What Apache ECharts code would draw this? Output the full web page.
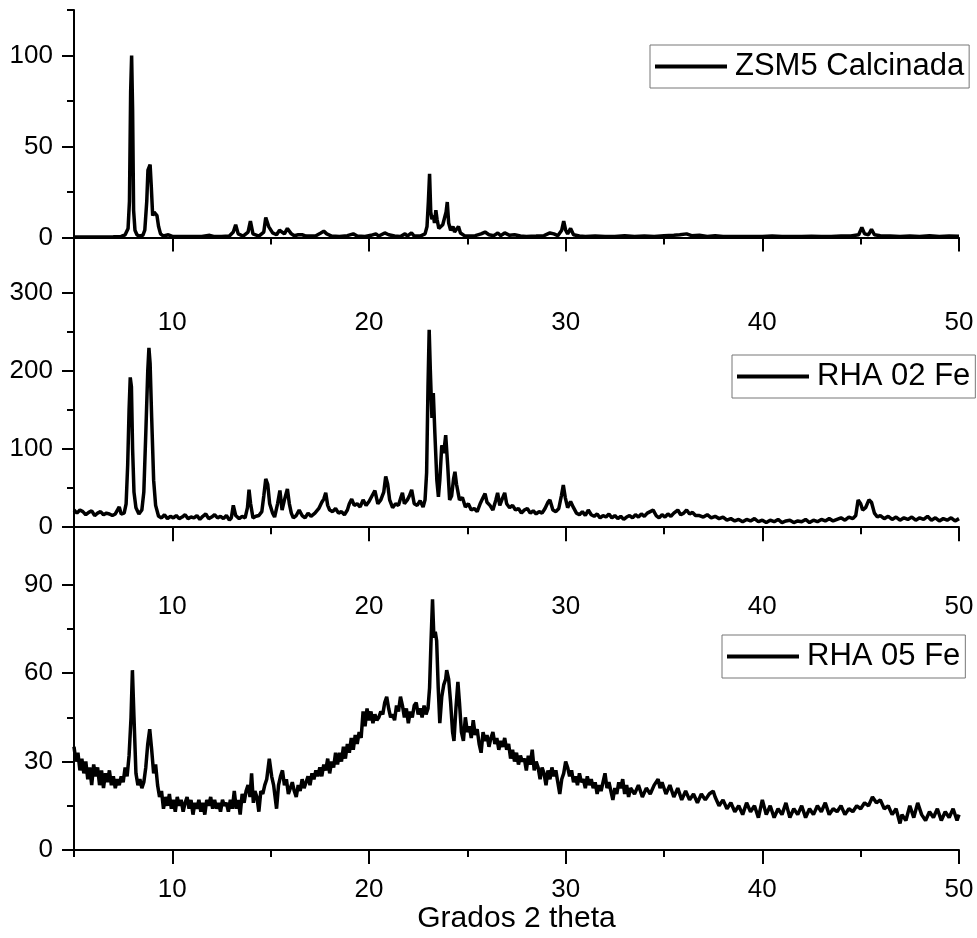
<!DOCTYPE html>
<html>
<head>
<meta charset="utf-8">
<title>DRX ZSM5 / RHA</title>
<script src="https://cdn.jsdelivr.net/npm/echarts@6/dist/echarts.min.js"></script>
<style>
  html, body { margin: 0; padding: 0; background: #fff; }
  #chart { width: 977px; height: 938px; }
</style>
</head>
<body>
<div id="chart"></div>
<script>
var zsm5Data = [
  [5,0.3],[5.5,0.3],[6,0.3],[6.5,0.3],[7,0.4],[7.4,0.6],[7.6,1.5],[7.75,5],[7.82,20],[7.88,80],[7.93,100],[7.98,70],[8.03,15],[8.1,4],[8.2,1.5],[8.35,0.8],
  [8.5,1.2],[8.6,4],[8.7,20],[8.76,37],[8.82,38],[8.87,40],[8.93,28],[9.0,12],[9.07,14],[9.15,13],[9.22,12],[9.3,6],[9.4,2],[9.55,0.8],[9.8,1.5],[10,0.6],
  [10.5,0.5],[11,0.6],[11.5,0.5],[11.9,1.2],[12.1,0.6],[12.5,0.5],[12.9,0.8],[13.1,3],[13.22,7],[13.35,2],[13.6,0.8],[13.85,3],[13.97,9],[14.1,2],[14.4,0.8],
  [14.65,3],[14.75,11],[14.82,12],[14.9,6],[15.0,5],[15.1,2.5],[15.3,1.5],[15.45,4],[15.55,4.5],[15.7,2],[15.85,5],[15.92,6],[16.05,2],[16.2,1],[16.4,1.5],
  [16.6,1.5],[16.8,0.8],[17.0,0.8],[17.3,1],[17.55,2.5],[17.7,3.5],[17.76,4.5],[17.85,2],[18.1,0.8],[18.5,0.6],[18.9,1],[19.2,2],[19.4,0.8],[19.8,0.6],
  [20.1,1.2],[20.35,2],[20.5,0.8],[20.8,2.5],[20.9,3.5],[21.0,1.5],[21.3,0.8],[21.6,0.6],[21.83,2],[21.95,0.8],[22.16,2.5],[22.3,0.8],[22.6,0.8],[22.85,2],
  [22.95,6],[23.02,20],[23.08,35],[23.14,14],[23.2,10],[23.27,12],[23.33,8],[23.4,15],[23.46,10],[23.55,5],[23.65,4],[23.75,7],[23.85,8],[23.92,14],
  [23.98,19.5],[24.05,8],[24.15,4],[24.27,6],[24.35,3],[24.45,4],[24.55,6],[24.65,2.5],[24.85,1],[25.1,0.8],[25.4,1],[25.7,2],[25.9,3],[26.1,1.5],[26.35,1],
  [26.55,2.5],[26.7,1],[26.9,2.5],[27.0,3.5],[27.15,1.2],[27.4,1.5],[27.7,0.8],[28.0,0.6],[28.5,0.8],[28.9,1],[29.2,2.5],[29.4,2],[29.6,1],[29.8,4],[29.9,9],
  [30.0,4],[30.1,2],[30.25,5],[30.4,1.5],[30.7,0.8],[31,0.6],[31.5,0.8],[32,0.6],[32.5,0.5],[33,1],[33.5,0.6],[34,0.8],[34.5,0.6],[35,1],[35.5,1.2],[35.8,1.5],
  [36.15,2],[36.4,1],[36.8,1.2],[37.2,0.6],[37.6,1],[38,0.5],[38.5,0.6],[39,0.5],[39.5,0.6],[40,0.5],[40.5,0.8],[41,0.6],[41.5,0.5],[42,0.6],[42.5,0.7],
  [43,0.5],[43.5,0.6],[44,0.8],[44.5,0.8],[44.9,1.5],[45.06,5.5],[45.2,2],[45.4,1.5],[45.55,4.5],[45.7,1.5],[46,1],[46.5,0.8],[47,0.6],[47.5,0.8],[48,0.6],
  [48.5,1],[49,0.6],[49.5,0.8],[50,0.7]
];

var rha02Data = [
  [5.0,22],[5.15,18],[5.3,22],[5.45,20],[5.6,16],[5.75,19],[5.9,21],[6.05,15],[6.2,18],[6.35,20],[6.5,16],[6.65,18],[6.8,17],[6.95,15],[7.1,17],[7.2,16],
  [7.3,26],[7.4,17],[7.55,18],[7.65,30],[7.73,80],[7.8,150],[7.86,192],[7.92,180],[7.98,100],[8.05,45],[8.15,25],[8.3,17],[8.45,22],[8.55,45],[8.65,120],
  [8.75,200],[8.81,230],[8.87,210],[8.95,140],[9.05,60],[9.15,28],[9.3,14],[9.45,12],[9.6,16],[9.75,11],[9.9,14],[10.05,12],[10.2,15],[10.35,11],[10.5,13],
  [10.65,16],[10.8,11],[10.95,13],[11.1,12],[11.25,15],[11.4,10],[11.55,14],[11.7,17],[11.85,11],[12.0,13],[12.15,16],[12.3,12],[12.45,14],[12.6,11],
  [12.75,15],[12.9,9],[13.0,12],[13.1,28],[13.22,15],[13.4,11],[13.55,14],[13.7,12],[13.82,25],[13.9,48],[13.98,30],[14.1,12],[14.25,14],[14.4,15],[14.55,20],
  [14.65,40],[14.75,62],[14.85,55],[14.95,30],[15.1,18],[15.2,13],[15.35,30],[15.47,47],[15.58,22],[15.7,35],[15.85,49],[15.95,30],[16.05,18],[16.15,12],
  [16.3,15],[16.45,22],[16.6,15],[16.75,12],[16.9,18],[17.05,14],[17.25,18],[17.45,24],[17.6,32],[17.7,36],[17.8,44],[17.9,28],[18.0,22],[18.15,20],[18.3,24],
  [18.45,18],[18.6,20],[18.75,16],[18.9,22],[19.0,30],[19.12,36],[19.25,28],[19.4,30],[19.55,26],[19.7,35],[19.85,28],[20.0,33],[20.15,40],[20.3,47],
  [20.45,30],[20.6,35],[20.75,45],[20.85,65],[20.95,55],[21.05,35],[21.2,25],[21.35,30],[21.5,28],[21.62,38],[21.7,44],[21.8,30],[21.95,35],[22.05,40],
  [22.17,48],[22.3,30],[22.45,28],[22.6,34],[22.75,26],[22.85,35],[22.93,70],[23.0,180],[23.06,253],[23.12,200],[23.2,140],[23.27,172],[23.35,120],[23.45,60],
  [23.53,39],[23.6,60],[23.7,105],[23.8,95],[23.9,118],[24.0,80],[24.1,35],[24.2,40],[24.3,62],[24.37,71],[24.45,55],[24.6,35],[24.75,38],[24.9,26],[25.05,30],
  [25.2,22],[25.35,24],[25.5,20],[25.65,30],[25.8,38],[25.9,43],[26.0,32],[26.15,28],[26.3,22],[26.45,35],[26.54,44],[26.65,28],[26.8,38],[26.9,44],[27.0,30],
  [27.15,25],[27.3,28],[27.45,22],[27.6,24],[27.75,18],[27.9,22],[28.05,24],[28.2,18],[28.35,21],[28.5,17],[28.65,20],[28.8,18],[28.95,24],[29.1,32],[29.2,35],
  [29.35,22],[29.5,20],[29.65,24],[29.78,40],[29.88,54],[29.98,38],[30.1,25],[30.25,33],[30.4,25],[30.55,18],[30.7,16],[30.85,20],[31.0,15],[31.15,22],
  [31.3,16],[31.45,14],[31.6,17],[31.75,12],[31.9,15],[32.05,13],[32.2,17],[32.35,12],[32.5,15],[32.65,11],[32.8,14],[32.95,10],[33.1,13],[33.25,15],
  [33.4,12],[33.55,16],[33.7,13],[33.85,17],[34.0,14],[34.15,18],[34.3,20],[34.45,22],[34.6,15],[34.75,12],[34.9,16],[35.05,13],[35.2,17],[35.35,14],
  [35.5,18],[35.7,22],[35.85,16],[36.0,18],[36.15,22],[36.3,17],[36.45,19],[36.6,15],[36.8,15],[37.0,13],[37.2,16],[37.4,12],[37.6,14],[37.8,11],[38.0,13],
  [38.2,9],[38.4,11],[38.6,8],[38.8,10],[39.0,7],[39.2,10],[39.4,8],[39.6,11],[39.8,7],[40.0,9],[40.2,6],[40.4,9],[40.6,7],[40.8,10],[41.0,6],[41.2,8],
  [41.4,9],[41.6,6],[41.8,8],[42.0,7],[42.2,10],[42.4,6],[42.6,9],[42.8,7],[43.0,10],[43.2,8],[43.4,11],[43.6,8],[43.8,10],[44.0,12],[44.2,9],[44.4,13],
  [44.6,11],[44.75,15],[44.87,35],[45.0,30],[45.1,22],[45.25,25],[45.42,35],[45.55,32],[45.7,18],[45.85,13],[46.0,15],[46.2,11],[46.4,14],[46.6,10],
  [46.8,13],[47.0,9],[47.2,12],[47.4,10],[47.6,13],[47.8,9],[48.0,12],[48.2,10],[48.4,14],[48.6,9],[48.8,12],[49.0,8],[49.2,11],[49.4,9],[49.6,12],
  [49.8,8],[50.0,11]
];

var rha05Data = [
  [5.0,35],[5.1,30],[5.2,33],[5.3,27],[5.4,31],[5.5,26],[5.6,30],[5.7,24],[5.8,28],[5.9,22],[6.0,29],[6.1,25],[6.2,28],[6.3,22],[6.4,27],[6.5,21],[6.6,26],
  [6.7,23],[6.8,27],[6.9,22],[7.0,25],[7.1,21],[7.2,24],[7.3,22],[7.4,25],[7.5,23],[7.6,28],[7.7,25],[7.8,32],[7.9,45],[7.97,61],[8.05,45],[8.15,26],[8.25,22],
  [8.35,24],[8.45,21],[8.55,23],[8.65,28],[8.75,36],[8.85,41],[8.95,34],[9.05,26],[9.15,29],[9.25,22],[9.35,18],[9.45,20],[9.55,14],[9.65,18],[9.75,15],
  [9.85,19],[9.95,14],[10.05,17],[10.15,13],[10.25,18],[10.35,15],[10.45,17],[10.55,13],[10.65,16],[10.75,18],[10.85,14],[10.95,17],[11.05,12],[11.15,16],
  [11.25,14],[11.35,17],[11.45,13],[11.55,16],[11.65,12],[11.75,17],[11.85,15],[11.95,18],[12.05,14],[12.15,17],[12.25,14],[12.35,16],[12.45,13],[12.55,17],
  [12.65,15],[12.75,16],[12.85,13],[12.95,17],[13.05,14],[13.15,20],[13.25,14],[13.35,17],[13.45,12],[13.55,19],[13.65,16],[13.75,20],[13.85,22],[13.95,18],
  [14.03,26],[14.12,16],[14.2,20],[14.3,18],[14.4,13],[14.5,20],[14.6,19],[14.7,22],[14.8,24],[14.93,31],[15.05,25],[15.15,22],[15.3,14],[15.4,22],[15.5,25],
  [15.6,27],[15.7,22],[15.8,24],[15.9,19],[16.0,21],[16.1,23],[16.2,20],[16.3,18],[16.4,22],[16.5,20],[16.6,24],[16.7,21],[16.8,23],[16.9,25],[17.0,22],
  [17.1,26],[17.2,24],[17.3,27],[17.4,25],[17.5,28],[17.6,25],[17.7,29],[17.8,27],[17.9,31],[18.0,26],[18.1,30],[18.2,28],[18.3,33],[18.4,29],[18.5,33],
  [18.6,30],[18.7,35],[18.8,31],[18.9,36],[19.0,33],[19.1,38],[19.2,34],[19.3,39],[19.4,36],[19.5,40],[19.6,38],[19.7,47],[19.8,42],[19.9,48],[20.0,44],
  [20.1,47],[20.2,43],[20.3,46],[20.4,44],[20.5,45],[20.6,47],[20.7,46],[20.8,50],[20.9,52],[21.0,48],[21.1,45],[21.2,46],[21.3,44],[21.4,49],[21.5,47],
  [21.6,52],[21.7,49],[21.8,45],[21.9,48],[22.0,43],[22.1,47],[22.2,45],[22.3,49],[22.4,50],[22.5,46],[22.6,48],[22.7,45],[22.8,49],[22.9,46],[23.0,48],
  [23.08,55],[23.15,70],[23.23,85],[23.3,72],[23.37,74],[23.44,71],[23.52,55],[23.6,43],[23.7,52],[23.8,56],[23.9,58],[23.95,61],[24.05,58],[24.15,50],
  [24.25,40],[24.32,37],[24.42,48],[24.52,57],[24.6,50],[24.7,40],[24.8,37],[24.9,45],[25.0,40],[25.1,42],[25.2,38],[25.3,44],[25.4,39],[25.5,41],[25.6,36],
  [25.7,33],[25.8,40],[25.9,37],[26.0,39],[26.1,35],[26.2,38],[26.3,40],[26.4,36],[26.5,38],[26.6,34],[26.7,37],[26.8,35],[26.9,38],[27.0,34],[27.1,36],
  [27.2,31],[27.3,34],[27.4,30],[27.5,33],[27.6,29],[27.7,32],[27.8,30],[27.9,31],[28.0,27],[28.1,32],[28.2,29],[28.3,34],[28.4,27],[28.5,30],[28.6,28],
  [28.7,24],[28.8,28],[28.9,26],[29.0,22],[29.1,27],[29.2,24],[29.3,28],[29.4,25],[29.5,27],[29.6,23],[29.7,19],[29.8,24],[29.9,26],[30.0,30],[30.1,28],
  [30.2,25],[30.3,27],[30.4,23],[30.5,25],[30.6,22],[30.7,26],[30.8,23],[30.9,24],[31.0,21],[31.1,25],[31.2,22],[31.3,24],[31.4,21],[31.5,23],[31.6,19],
  [31.7,22],[31.8,20],[31.9,23],[32.0,26],[32.1,21],[32.2,23],[32.3,20],[32.4,17],[32.5,21],[32.6,19],[32.7,23],[32.8,21],[32.9,24],[33.0,19],[33.1,22],
  [33.2,18],[33.3,21],[33.5,19],[33.7,22],[33.9,18],[34.1,21],[34.3,19],[34.5,22],[34.7,24],[34.8,21],[34.9,23],[35.1,19],[35.3,22],[35.5,18],[35.7,21],
  [35.9,17],[36.1,20],[36.3,17],[36.5,19],[36.7,16],[36.9,19],[37.1,17],[37.3,19],[37.5,20],[37.6,18],[37.8,15],[38.0,17],[38.2,14],[38.4,16],[38.6,13],
  [38.8,15],[39.0,12],[39.2,16],[39.4,13],[39.6,15],[39.8,11],[40.0,17],[40.2,12],[40.4,15],[40.6,11],[40.8,14],[41.0,12],[41.2,16],[41.4,11],[41.6,14],
  [41.8,12],[42.0,15],[42.2,11],[42.4,14],[42.6,12],[42.8,15],[43.0,13],[43.2,16],[43.4,12],[43.6,14],[43.8,13],[44.0,15],[44.2,12],[44.4,14],[44.6,13],
  [44.8,15],[45.0,14],[45.2,16],[45.4,15],[45.6,18],[45.8,16],[46.0,17],[46.2,14],[46.4,15],[46.6,12],[46.8,14],[47.0,9],[47.1,12],[47.3,10],[47.5,15],
  [47.7,11],[47.9,16],[48.1,12],[48.3,10],[48.5,13],[48.7,11],[48.9,14],[49.1,10],[49.3,13],[49.5,11],[49.7,14],[49.9,10],[50.0,12]
];

var seriesNames = ['ZSM5 Calcinada', 'RHA 02 Fe', 'RHA 05 Fe'];

// marcas de los ejes
var xMajorTicks = [10, 20, 30, 40, 50];
var xMinorTicks = [5, 15, 25, 35, 45];
var yRanges = [[-25, 125], [-51, 313], [0, 96]];
var yMajorTicks = [[0, 50, 100], [0, 100, 200, 300], [0, 30, 60, 90]];
var yMinorTicks = [[25, 75, 125], [50, 150, 250], [15, 45, 75]];

var FONT = 'Liberation Sans, Arial, sans-serif';
var axisColor = '#000';

var chart = echarts.init(document.getElementById('chart'));

var grids = [
  { left: 74, right: 18, top: 10, height: 273 },
  { left: 74, right: 18, top: 283, height: 284 },
  { left: 74, right: 18, top: 567, height: 283 }
];

var xAxes = [], yAxes = [], series = [], legends = [];

// posiciones de las leyendas
var legendPos = [
  { left: 650, top: 45 },
  { left: 732, top: 355 },
  { left: 722, top: 635 }
];

var allData = [zsm5Data, rha02Data, rha05Data];

for (var i = 0; i < 3; i++) {
  // eje x principal
  xAxes.push({
    type: 'value', gridIndex: i, min: 5, max: 50, position: 'bottom',
    axisLine: { show: true, lineStyle: { color: axisColor, width: 2 } },
    axisTick: { show: true, inside: false, length: 14, customValues: xMajorTicks, lineStyle: { color: axisColor, width: 2 } },
    axisLabel: { customValues: xMajorTicks, color: '#000', fontSize: 26, fontFamily: FONT, margin: 27 },
    splitLine: { show: false },
    name: i === 2 ? 'Grados 2 theta' : '',
    nameLocation: 'middle', nameGap: 54,
    nameTextStyle: { fontSize: 30, fontFamily: FONT, color: '#000' }
  });
  // ticks menores eje x
  xAxes.push({
    type: 'value', gridIndex: i, min: 5, max: 50, position: 'bottom',
    axisLine: { show: false },
    axisTick: { show: true, length: 7, customValues: xMinorTicks, lineStyle: { color: axisColor, width: 2 } },
    axisLabel: { show: false },
    splitLine: { show: false }
  });
  yAxes.push({
    type: 'value', gridIndex: i, min: yRanges[i][0], max: yRanges[i][1], position: 'left',
    axisLine: { show: true, lineStyle: { color: axisColor, width: 2 } },
    axisTick: { show: true, length: 12, customValues: yMajorTicks[i], lineStyle: { color: axisColor, width: 2 } },
    axisLabel: { customValues: yMajorTicks[i], color: '#000', fontSize: 26, fontFamily: FONT, margin: 21 },
    splitLine: { show: false }
  });
  yAxes.push({
    type: 'value', gridIndex: i, min: yRanges[i][0], max: yRanges[i][1], position: 'left',
    axisLine: { show: false },
    axisTick: { show: true, length: 7, customValues: yMinorTicks[i], lineStyle: { color: axisColor, width: 2 } },
    axisLabel: { show: false },
    splitLine: { show: false }
  });
  series.push({
    name: seriesNames[i],
    type: 'line',
    xAxisIndex: i * 2,
    yAxisIndex: i * 2,
    data: allData[i],
    symbol: 'none',
    lineStyle: { color: '#000', width: 3.5 },
    itemStyle: { color: '#000' }
  });
  legends.push({
    data: [seriesNames[i]],
    left: legendPos[i].left, top: legendPos[i].top,
    selectedMode: false,
    icon: 'rect',
    padding: [6, 5, 6, 5],
    itemWidth: 72, itemHeight: 4,
    borderColor: '#777', borderWidth: 1,
    textStyle: { fontSize: 31, fontFamily: FONT, color: '#000', padding: [0, 0, 0, 3] }
  });
}

chart.setOption({
  animation: false,
  backgroundColor: '#fff',
  grid: grids,
  xAxis: xAxes,
  yAxis: yAxes,
  legend: legends,
  series: series
});
</script>
</body>
</html>
